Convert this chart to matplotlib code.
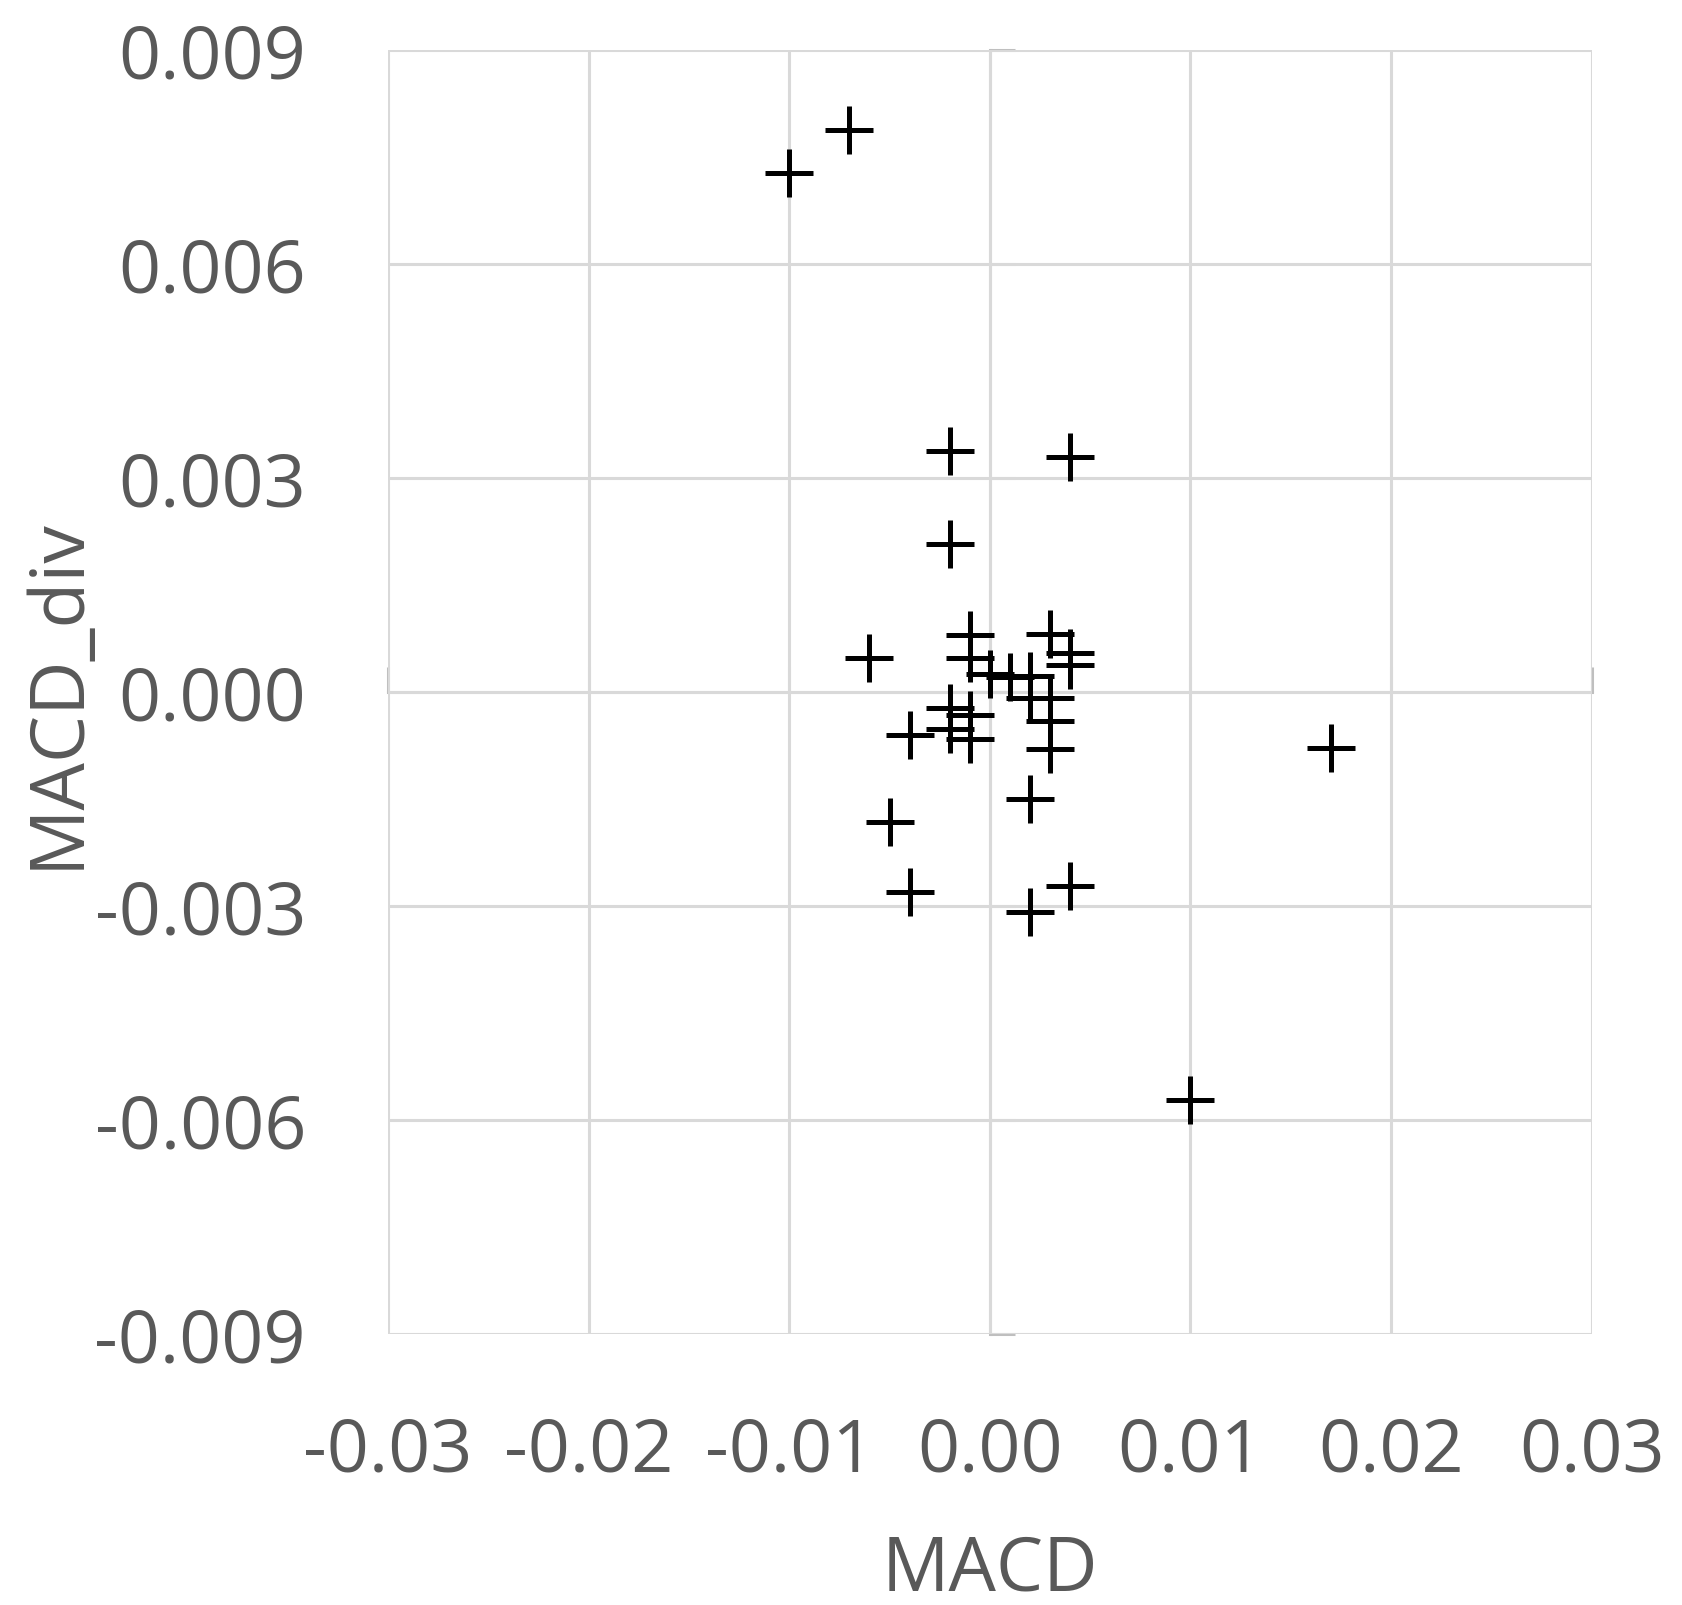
import numpy as np
import matplotlib
matplotlib.use("Agg")
import matplotlib.pyplot as plt

plt.rcParams['font.family'] = ['Open Sans', 'DejaVu Sans']

# values
macd = [-0.010, -0.007, 0.017, 0.010,
        -0.002, 0.004, -0.002, -0.006,
        -0.001, -0.001, 0.003, 0.004, 0.004,
        0.000, 0.001, 0.002, 0.002, 0.003, 0.003, 0.003,
        -0.002, -0.002, -0.001, -0.001, -0.004,
        -0.005, -0.004, 0.002, 0.004, 0.002]
macd_div = [0.00727, 0.00788, -0.00079, -0.00572,
            0.00338, 0.00329, 0.00207, 0.00047,
            0.00080, 0.00047, 0.00081, 0.00055, 0.00037,
            0.00025, 0.00020, 0.00022, -0.00009, -0.00009, -0.00041, -0.00080,
            -0.00023, -0.00052, -0.00033, -0.00066, -0.00060,
            -0.00183, -0.00281, -0.00150, -0.00272, -0.00309]

xticks = [-0.03, -0.02, -0.01, 0.0, 0.01, 0.02, 0.03]
yticks = [-0.009, -0.006, -0.003, 0.0, 0.003, 0.006, 0.009]

TXT = '#595959'
GRID = '#d9d9d9'
AX = '#bfbfbf'

fig = plt.figure(figsize=(16.82, 16.06), dpi=100)
ax = fig.add_axes([0.2307, 0.1689, 0.7156, 0.7995])

ax.scatter(macd, macd_div, marker='+', s=34**2, linewidths=3.6, color='black', zorder=5)

ax.set_xlim(-0.03, 0.03)
ax.set_ylim(-0.009, 0.009)
ax.set_xticks(xticks)
ax.set_yticks(yticks)
ax.set_xticklabels(['%.2f' % v for v in xticks])
ax.set_yticklabels(['%.3f' % v for v in yticks])
ax.grid(True, color=GRID, linewidth=2.2)
ax.set_axisbelow(True)
for s in ax.spines.values():
    s.set_visible(False)
ax.tick_params(length=0, labelsize=53, labelcolor=TXT)
ax.tick_params(axis='y', pad=59)
ax.tick_params(axis='x', pad=58)

# zero axes with outside ticks, like the spreadsheet chart
sy = ax.secondary_yaxis(0.5)
sy.set_yticks(yticks)
sy.set_yticklabels([])
sy.tick_params(direction='out', length=18, width=2.2, color=AX)
for s in sy.spines.values():
    s.set_color(AX)
    s.set_linewidth(2.2)
sx = ax.secondary_xaxis(0.5)
sx.set_xticks(xticks)
sx.set_xticklabels([])
sx.tick_params(direction='out', length=18, width=2.2, color=AX)
for s in sx.spines.values():
    s.set_color(AX)
    s.set_linewidth(2.2)

ax.set_xlabel('MACD', fontsize=54, color=TXT)
ax.set_ylabel('MACD_div', fontsize=54, color=TXT)
ax.xaxis.label.set_va('center')
ax.xaxis.set_label_coords(0.5, -0.184)
ax.yaxis.label.set_va('center')
ax.yaxis.set_label_coords(-0.274, 0.5)

fig.savefig('out.png', dpi=100, facecolor='white')
